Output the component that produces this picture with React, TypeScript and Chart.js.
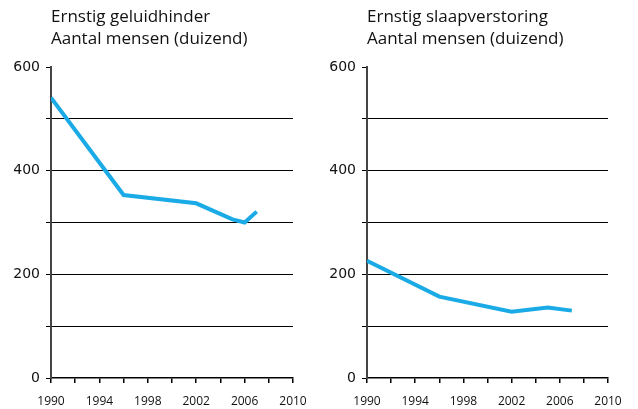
import React, { useEffect, useRef } from "react";
import { Chart, registerables } from "chart.js";

Chart.register(...registerables);

const leftTitle = "Ernstig geluidhinder";
const rightTitle = "Ernstig slaapverstoring";
const subtitle = "Aantal mensen (duizend)";

const yearsHinder = [1990, 1996, 2002, 2005, 2006, 2007];
const valuesHinder = [541, 353, 337, 306, 300, 321];

const yearsSlaap = [1990, 1996, 2002, 2005, 2007];
const valuesSlaap = [226, 157, 128, 136, 130];

const yLabelValues = [0, 200, 400, 600];
const xLabelYears = [1990, 1994, 1998, 2002, 2006, 2010];

const LINE_COLOR = "#1aaae6";
const FONT = "'Open Sans', 'DejaVu Sans', sans-serif";

function makeConfig(years: number[], values: number[], padRight: number): any {
  return {
    type: "line",
    data: {
      datasets: [
        {
          data: years.map((yr, i) => ({ x: yr, y: values[i] })),
          borderColor: LINE_COLOR,
          borderWidth: 4,
          pointRadius: 0,
          tension: 0,
          fill: false,
        },
      ],
    },
    options: {
      responsive: false,
      animation: false,
      devicePixelRatio: 1,
      layout: { padding: { top: 67, left: 0, right: padRight, bottom: 0 } },
      plugins: { legend: { display: false }, tooltip: { enabled: false }, title: { display: false } },
      scales: {
        x: {
          type: "linear",
          min: 1990,
          max: 2010,
          afterFit: (s: any) => {
            s.height = 31;
          },
          ticks: {
            stepSize: 2,
            autoSkip: false,
            maxRotation: 0,
            padding: 11,
            color: "#111",
            font: { family: FONT, size: 12 },
            callback: (v: any) => (xLabelYears.includes(Number(v)) ? String(v) : ""),
          },
          grid: {
            drawOnChartArea: false,
            drawTicks: true,
            tickLength: 5,
            color: "#000",
            tickColor: "#000",
            lineWidth: 1.5,
          },
          border: { color: "#000", width: 1.5 },
        },
        y: {
          type: "linear",
          min: 0,
          max: 600,
          afterFit: (s: any) => {
            s.width = 51;
          },
          ticks: {
            stepSize: 100,
            autoSkip: false,
            padding: 6,
            color: "#111",
            font: { family: "'DejaVu Sans', sans-serif", size: 14 },
            callback: (v: any) => (yLabelValues.includes(Number(v)) ? String(v) : ""),
          },
          grid: {
            drawTicks: true,
            tickLength: 5,
            color: (ctx: any) =>
              ctx.tick && ctx.tick.value > 0 && ctx.tick.value < 600 ? "#000" : "rgba(0,0,0,0)",
            tickColor: "#000",
            lineWidth: 1,
          },
          border: { color: "#444", width: 2 },
        },
      },
    },
  };
}

function Panel(props: {
  left: number;
  width: number;
  title: string;
  titleLeft: number;
  years: number[];
  values: number[];
  padRight: number;
}) {
  const ref = useRef<HTMLCanvasElement | null>(null);
  useEffect(() => {
    if (!ref.current) return;
    const chart = new Chart(ref.current, makeConfig(props.years, props.values, props.padRight));
    return () => chart.destroy();
  }, []);
  return (
    <div style={{ position: "absolute", left: props.left, top: 0, width: props.width, height: 409 }}>
      <canvas ref={ref} width={props.width} height={409} style={{ display: "block" }} />
      <div
        style={{
          position: "absolute",
          left: props.titleLeft,
          top: 5,
          fontFamily: FONT,
          fontSize: 17,
          lineHeight: "22px",
          color: "#111",
          whiteSpace: "nowrap",
        }}
      >
        <div>{props.title}</div>
        <div>{subtitle}</div>
      </div>
    </div>
  );
}

export default function App() {
  return (
    <div
      style={{
        position: "fixed",
        left: 0,
        top: 0,
        width: 638,
        height: 409,
        background: "#fff",
        overflow: "hidden",
      }}
    >
      <Panel left={0} width={319} title={leftTitle} titleLeft={51} years={yearsHinder} values={valuesHinder} padRight={26} />
      <Panel left={316} width={319} title={rightTitle} titleLeft={51} years={yearsSlaap} values={valuesSlaap} padRight={27} />
    </div>
  );
}
